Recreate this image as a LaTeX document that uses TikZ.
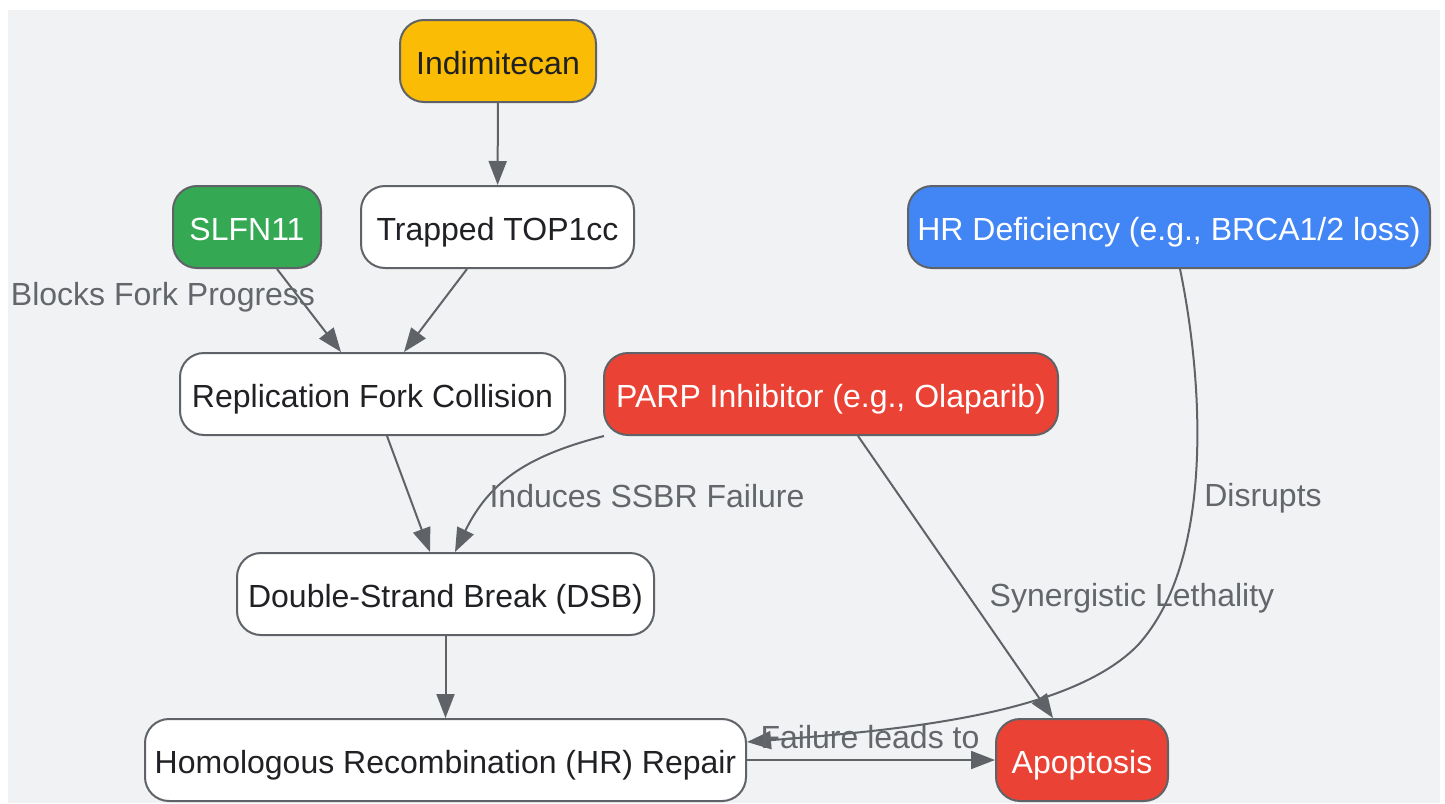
\documentclass[tikz,border=0pt]{standalone}
\usepackage{fontspec}
\setmainfont{Liberation Sans}
\usetikzlibrary{arrows.meta}
\definecolor{bgc}{HTML}{F1F2F4}
\definecolor{edgec}{HTML}{5F6368}
\definecolor{lblc}{HTML}{63666B}
\definecolor{txtc}{HTML}{202124}
\definecolor{yellowc}{HTML}{FBBC05}
\definecolor{greenc}{HTML}{34A853}
\definecolor{bluec}{HTML}{4285F4}
\definecolor{redc}{HTML}{EA4335}
\begin{document}
\begin{tikzpicture}[x=1pt,y=-1pt,
  box/.style={draw=edgec, line width=2pt, rounded corners=24pt, minimum height=82pt,
    inner sep=0pt, font=\fontsize{32}{36}\selectfont, text=txtc, fill=white,
    text height=27pt, text depth=0pt},
  colbox/.style={box, text=white},
  conn/.style={draw=edgec, line width=2pt, -{Triangle[length=24pt,width=18pt]}},
  lbl/.style={font=\fontsize{32}{36}\selectfont, text=lblc, inner sep=0pt, anchor=base}]
\useasboundingbox (0,0) rectangle (1445,803);
\fill[bgc] (8,10) rectangle (1440,803);

\node[box, fill=yellowc, minimum width=196pt] (ind) at (498,61) {Indimitecan};
\node[colbox, fill=greenc, minimum width=148pt] (slfn) at (247,227) {SLFN11};
\node[box, minimum width=273pt] (trap) at (497.5,227) {Trapped TOP1cc};
\node[colbox, fill=bluec, minimum width=522pt] (hrd) at (1169,227) {HR Deficiency (e.g., BRCA1/2 loss)};
\node[box, minimum width=385pt] (rfc) at (372.5,394) {Replication Fork Collision};
\node[colbox, fill=redc, minimum width=454pt] (parp) at (831,394) {PARP Inhibitor (e.g., Olaparib)};
\node[box, minimum width=417pt] (dsb) at (445.5,594) {Double-Strand Break (DSB)};
\node[box, minimum width=601pt] (hrr) at (445.5,760) {Homologous Recombination (HR) Repair};
\node[colbox, fill=redc, minimum width=172pt] (apop) at (1082,760) {Apoptosis};

\draw[conn] (ind) -- (trap);
\draw[conn] ([xshift=30pt]slfn.south) -- ([xshift=-31.5pt]rfc.north);
\draw[conn] ([xshift=-30.5pt]trap.south) -- ([xshift=31.5pt]rfc.north);
\draw[conn] ([xshift=14.5pt]rfc.south) -- ([xshift=-15.5pt]dsb.north);
\draw[conn] ([xshift=-227pt]parp.south) .. controls (530,455) and (490,480) .. ([xshift=9.5pt]dsb.north);
\draw[conn] ([xshift=27pt]parp.south) -- ([xshift=-29pt]apop.north);
\draw[conn] ([xshift=11pt]hrd.south) .. controls (1203,380) and (1215,560) .. (1138,645)
   .. controls (1070,715) and (900,730) .. ([yshift=18pt]hrr.east);
\draw[conn] (dsb) -- (hrr);
\draw[conn] (hrr) -- (apop);

\node[lbl] (l1) at (163,305) {Blocks Fork Progress};
\node[lbl] (l2) at (647,507) {Induces SSBR Failure};
\node[lbl] (l3) at (1132,606.5) {Synergistic Lethality};
\node[lbl] (l4) at (1263,506.5) {Disrupts};
\node[lbl] (l5) at (870,748) {Failure leads to};
\end{tikzpicture}
\end{document}
